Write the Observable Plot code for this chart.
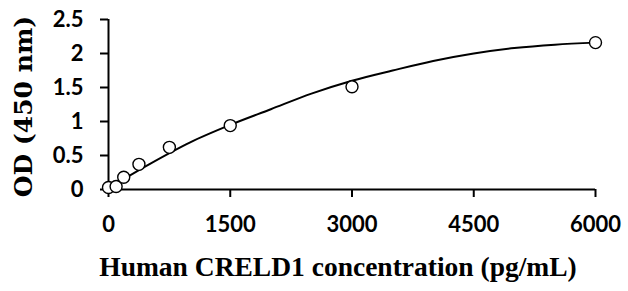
<!DOCTYPE html>
<html>
<head>
<meta charset="utf-8">
<script src="https://cdn.jsdelivr.net/npm/d3@7"></script>
<script src="https://cdn.jsdelivr.net/npm/@observablehq/plot@0.6"></script>
<style>
  html, body { margin: 0; padding: 0; background: #fff; }
  svg { display: block; }
</style>
</head>
<body>
<div id="chart"></div>
<script>
// Standards (measured points)
const concentration = [0, 93.75, 187.5, 375, 750, 1500, 3000, 6000];
const od = [0.03, 0.045, 0.18, 0.37, 0.62, 0.94, 1.51, 2.16];

// Fitted curve
const curveX = [0, 500, 1000, 1500, 2000, 2500, 3000, 3500, 4000, 4500, 5000, 5500, 6000];
const curveY = [0.02, 0.37, 0.69, 0.95, 1.18, 1.41, 1.60, 1.75, 1.89, 2.00, 2.08, 2.13, 2.16];

const xTicks = [0, 1500, 3000, 4500, 6000];
const yTicks = [0, 0.5, 1, 1.5, 2, 2.5];
const yTickLabels = ["0", "0.5", "1", "1.5", "2", "2.5"];

const points = concentration.map((c, i) => ({x: c, y: od[i]}));
const curve = curveX.map((c, i) => ({x: c, y: curveY[i]}));

const tickFont = "Lato, 'Open Sans', sans-serif";
const titleFont = "'Liberation Serif', 'DejaVu Serif', serif";
const yTitleFont = "'DejaVu Serif', 'Liberation Serif', serif";

const chart = Plot.plot({
  width: 628,
  height: 291,
  marginLeft: 108,
  marginRight: 33,
  marginTop: 19,
  marginBottom: 102,
  x: {domain: [0, 6000]},
  y: {domain: [0, 2.5]},
  style: {background: "#fff", color: "#000"},
  marks: [
    Plot.ruleY([0], {stroke: "#000", strokeWidth: 2}),
    Plot.ruleX([0], {stroke: "#000", strokeWidth: 2}),
    Plot.axisX({
      ticks: xTicks,
      tickSize: 8,
      tickPadding: 19,
      tickFormat: d => String(d),
      strokeWidth: 2,
      fontSize: 22,
      fontWeight: "bold",
      fontFamily: tickFont,
      label: null
    }),
    Plot.axisY({
      ticks: yTicks,
      tickSize: 8,
      tickPadding: 17,
      tickFormat: (d, i) => yTickLabels[i],
      strokeWidth: 2,
      fontSize: 22,
      fontWeight: "bold",
      fontFamily: tickFont,
      label: null
    }),
    Plot.line(curve, {x: "x", y: "y", curve: "monotone-x", stroke: "#000", strokeWidth: 2}),
    Plot.dot(points, {x: "x", y: "y", r: 6, stroke: "#000", strokeWidth: 1.4, fill: "#fff"}),
    Plot.text(["OD (450 nm)"], {
      frameAnchor: "left", rotate: -90, dx: -85, dy: 2, textAnchor: "middle",
      fontSize: 25, fontWeight: "bold", fontFamily: yTitleFont, fill: "#000"
    }),
    Plot.text(["Human CRELD1 concentration (pg/mL)"], {
      frameAnchor: "bottom", dy: 86, dx: -14, textAnchor: "middle",
      fontSize: 27.5, fontWeight: "bold", fontFamily: titleFont, fill: "#000"
    })
  ]
});
document.getElementById("chart").appendChild(chart);
</script>
</body>
</html>
